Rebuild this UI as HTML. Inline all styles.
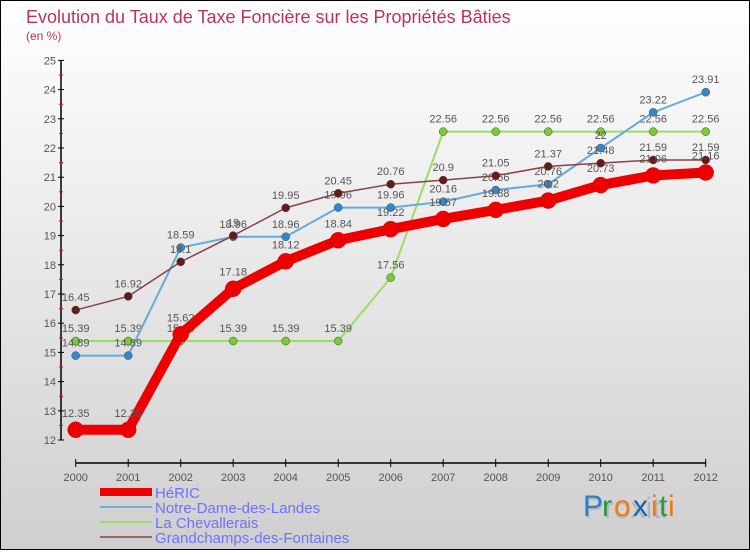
<!DOCTYPE html>
<html><head><meta charset="utf-8"><style>
body{margin:0}
svg text{font-family:"Liberation Sans",sans-serif}
</style></head><body>
<svg width="750" height="550" xmlns="http://www.w3.org/2000/svg">
<defs><linearGradient id="bg" x1="0" y1="0" x2="0" y2="1"><stop offset="0" stop-color="#ffffff"/><stop offset="1" stop-color="#cfcfcf"/></linearGradient></defs>
<rect x="0.5" y="0.5" width="749" height="549" fill="url(#bg)" stroke="#000"/>
<text x="26" y="23" font-size="18" fill="#c0305f">Evolution du Taux de Taxe Foncière sur les Propriétés Bâties</text>
<text x="26" y="40" font-size="12" fill="#c0305f">(en %)</text>
<g id="axes"></g>
<g id="series"></g>
<g id="legend"></g>
<g font-size="30">
<text x="584" y="518" fill="#999" opacity="0.5">Proxiti</text>
<text x="583" y="516" fill="#2a7fd0">P</text><text x="602" y="516" fill="#2a9a40">r</text><text x="614" y="516" fill="#f07a10">o</text><text x="633" y="516" fill="#1a5fb0">x</text><text x="651" y="516" fill="#f07a10">i</text><text x="659" y="516" fill="#2a9a40">t</text><text x="668" y="516" fill="#f07a10">i</text>
</g>
</svg>
<script>
const years=[2000,2001,2002,2003,2004,2005,2006,2007,2008,2009,2010,2011,2012];
const yTicks=[12,13,14,15,16,17,18,19,20,21,22,23,24,25];
const heric=[12.35,12.35,15.62,17.18,18.12,18.84,19.22,19.57,19.88,20.2,20.73,21.06,21.16];
const notreDame=[14.89,14.89,18.59,18.96,18.96,19.96,19.96,20.16,20.56,20.76,22,23.22,23.91];
const chevallerais=[15.39,15.39,15.39,15.39,15.39,15.39,17.56,22.56,22.56,22.56,22.56,22.56,22.56];
const grandchamps=[16.45,16.92,18.1,19,19.95,20.45,20.76,20.9,21.05,21.37,21.48,21.59,21.59];
const NS="http://www.w3.org/2000/svg";
function X(i){return 75.7+i*52.5;}
function Y(v){return 440-(v-12)*29.2;}
function el(t,a,p){const e=document.createElementNS(NS,t);for(const k in a)e.setAttribute(k,a[k]);p.appendChild(e);return e;}
const ax=document.getElementById('axes');
let yl=el('line',{x1:61,y1:Y(25),x2:61,y2:Y(12),stroke:'#000','stroke-width':1.5},ax);


yTicks.forEach(v=>{
 el('line',{x1:58,x2:64,y1:Y(v),y2:Y(v),stroke:'#000'},ax);
 if(v<25){el('line',{x1:59,x2:63,y1:Y(v+0.5),y2:Y(v+0.5),stroke:'#f00'},ax);}
 const t=el('text',{x:56,y:Y(v)+4,'font-size':11,'text-anchor':'end',fill:'#555'},ax);t.textContent=v;
 
 
});
let xl=el('line',{x1:X(0),y1:463,x2:X(12),y2:463,stroke:'#000','stroke-width':1.5},ax);


years.forEach((yr,i)=>{
 el('line',{x1:X(i),x2:X(i),y1:459,y2:467,stroke:'#000'},ax);
 const t=el('text',{x:X(i),y:481,'font-size':11,'text-anchor':'middle',fill:'#555'},ax);t.textContent=yr;
 
 
});
const sg=document.getElementById('series');
const series=[
 {name:'chevallerais',data:chevallerais,c:'#99dd66',pc:'#77cc33',w:2,r:4},
 {name:'notre-dame',data:notreDame,c:'#66aadd',pc:'#3388cc',w:2,r:4},
 {name:'grandchamps',data:grandchamps,c:'#884444',pc:'#661a1a',w:1.5,r:4},
 {name:'heric',data:heric,c:'#ee0000',pc:'#ee0000',w:10,r:8}
];
series.forEach(s=>{
 const g=el('g',{},sg);
 
 
 el('polyline',{points:s.data.map((v,i)=>X(i)+','+Y(v)).join(' '),fill:'none',stroke:s.c,'stroke-width':s.w,'stroke-linejoin':'round'},g);
 s.data.forEach((v,i)=>{
  const c=el('circle',{cx:X(i),cy:Y(v),r:s.r,fill:s.pc,stroke:s.w>5?'#cc0000':'#444','stroke-width':0.5},g);
  
  
  const t=el('text',{x:X(i),y:Y(v)-(s.r+5),'font-size':11,'text-anchor':'middle',fill:'#555'},g);t.textContent=v;
  
  
 });
});
const lg=document.getElementById('legend');
const leg=[['HéRIC','#ee0000',8],['Notre-Dame-des-Landes','#77aadd',2],['La Chevallerais','#99dd66',2],['Grandchamps-des-Fontaines','#996666',2]];
leg.forEach((l,i)=>{
 const y=492+i*15;
 const g=el('g',{},lg);
 
 
 el('rect',{x:100,y:y-l[2]/2,width:52,height:l[2],fill:l[1]},g);
 const t=el('text',{x:155,y:y+6,'font-size':15,fill:'#7070ff'},g);t.textContent=l[0];
});
</script>
</body></html>
